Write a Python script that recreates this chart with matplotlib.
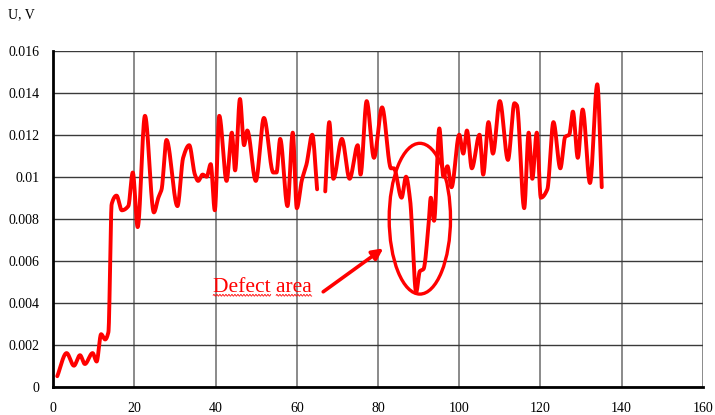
import numpy as np
import matplotlib
matplotlib.use('Agg')
import matplotlib.pyplot as plt
from matplotlib.patches import Ellipse
from matplotlib.lines import Line2D
from matplotlib.transforms import IdentityTransform
from matplotlib.ticker import FuncFormatter

# readings along the scan (position, signal in V); nan = missing sample
position = [1, 3.3, 5.1, 6.6, 7.8, 9.7, 10.7, 11.8, 12.8, 13.6, 14.4, 15.6, 16.9, 18.5,
            19.6, 20.8, 22.6, 24.8, 25.9, 26.7, 27.9, 30.6, 32.0, 33.5, 34.9, 35.7,
            36.8, 37.8, 38.8, 39.8, 40.9, 42.7, 44.0, 44.8, 46.0, 47.0, 47.8, 49.9,
            51.9, 54.2, 55.0, 55.9, 57.7, 59.0, 60.0, 61.2, 62.4, 63.8, 65.0, 66.0,
            67.0, 68.0, 69.0, 71.1, 73.0, 75.0, 75.7, 77.2, 79.0, 81.0, 83.2, 83.9,
            85.8, 86.9, 87.9, 89.4, 90.3, 91.2, 92.4, 93.0, 93.8, 95.1, 96.1, 97.1,
            98.1, 100.0, 101.0, 101.9, 103.1, 105.0, 105.9, 107.2, 108.3, 110.0,
            112.0, 113.6, 114.2, 116.0, 117.1, 118.0, 119.1, 120.1, 121.7, 123.2,
            124.9, 126.1, 127.1, 128.0, 129.2, 130.4, 132.2, 134.0, 135.1]
voltage = [0.0005, 0.0016, 0.0010, 0.0015, 0.00108, 0.0016, 0.0012, 0.0025, 0.00225,
           0.0026, 0.0087, 0.0091, 0.0084, 0.0086, 0.0102, 0.0076, 0.0129, 0.0083,
           0.0090, 0.0094, 0.01175, 0.0086, 0.0109, 0.0115, 0.0101, 0.0098, 0.0101,
           0.0100, 0.0106, 0.0084, 0.0129, 0.0098, 0.0121, 0.0103, 0.0137, 0.0115,
           0.0122, 0.0098, 0.0128, 0.0102, 0.0102, 0.0118, 0.0086, 0.0121, 0.0085,
           0.0098, 0.0106, 0.0120, 0.0094, np.nan, 0.0093, 0.0126, 0.0099, 0.0118,
           0.0099, 0.0115, 0.0101, 0.0136, 0.0109, 0.0133, 0.0104, 0.0104, 0.0090,
           0.0100, 0.0089, 0.0045, 0.0055, 0.0056, 0.0076, 0.0090, 0.0079, 0.0123,
           0.0100, 0.0105, 0.0095, 0.0120, 0.0111, 0.0122, 0.0104, 0.0120, 0.0101,
           0.0126, 0.0111, 0.0136, 0.0108, 0.0135, 0.0134, 0.0085, 0.0121, 0.0099,
           0.0121, 0.0090, 0.0094, 0.0126, 0.0104, 0.0119, 0.0120, 0.0131, 0.0109,
           0.0132, 0.0097, 0.0144, 0.0095]

x_ticks = [0, 20, 40, 60, 80, 100, 120, 140, 160]
y_ticks = [0, 0.002, 0.004, 0.006, 0.008, 0.01, 0.012, 0.014, 0.016]

defect_label = 'Defect area'
defect_center = (90.3, 0.0080)
defect_size = (15.1, 0.00718)
label_pos = (39.4, 0.00452)
arrow_tail = (66.5, 0.00452)
arrow_head = (81.3, 0.00659)

RED = '#ff0000'
SERIF = 'Liberation Serif'


def pchip(x, y, xs):
    # monotone cubic, a stand-in for Excel's smoothed line
    h = np.diff(x)
    d = np.diff(y) / h
    m = np.zeros_like(y)
    m[0], m[-1] = d[0], d[-1]
    for k in range(1, len(x) - 1):
        if d[k - 1] * d[k] > 0:
            w1 = 2 * h[k] + h[k - 1]
            w2 = h[k] + 2 * h[k - 1]
            m[k] = (w1 + w2) / (w1 / d[k - 1] + w2 / d[k])
    idx = np.clip(np.searchsorted(x, xs) - 1, 0, len(x) - 2)
    t = (xs - x[idx]) / h[idx]
    h00 = 2 * t**3 - 3 * t**2 + 1
    h10 = t**3 - 2 * t**2 + t
    h01 = -2 * t**3 + 3 * t**2
    h11 = t**3 - t**2
    return (h00 * y[idx] + h10 * h[idx] * m[idx]
            + h01 * y[idx + 1] + h11 * h[idx] * m[idx + 1])


fig = plt.figure(figsize=(7.15, 4.15), dpi=100)
ax = fig.add_axes([0.0744, 0.0682, 0.9086, 0.8096])

px = np.array(position, dtype=float)
py = np.array(voltage, dtype=float)
gaps = np.where(np.isnan(py))[0]
for seg in np.split(np.arange(len(px)), gaps):
    seg = seg[~np.isnan(py[seg])]
    xs = np.linspace(px[seg][0], px[seg][-1], 1500)
    ax.plot(xs, pchip(px[seg], py[seg], xs), color=RED, lw=2.8,
            solid_joinstyle='round', solid_capstyle='round', zorder=3)

ax.add_patch(Ellipse(defect_center, defect_size[0], defect_size[1],
                     fill=False, ec=RED, lw=2.4, zorder=4))
ax.annotate('', xy=arrow_head, xytext=arrow_tail,
            arrowprops=dict(arrowstyle='-|>', color=RED, lw=2.6,
                            mutation_scale=16, shrinkA=0, shrinkB=0))
txt = ax.text(label_pos[0], label_pos[1], defect_label, ha='left', va='baseline',
              fontsize=15.5, color=RED, family=SERIF, zorder=5)

ax.set_xlim(0, 160)
ax.set_ylim(0, 0.016)
ax.set_xticks(x_ticks)
ax.set_yticks(y_ticks)
ax.yaxis.set_major_formatter(FuncFormatter(lambda v, _: '%g' % v))
ax.tick_params(axis='y', length=0, labelsize=10, pad=10)
ax.tick_params(axis='x', length=0, labelsize=10, pad=11)
for lab in ax.get_xticklabels() + ax.get_yticklabels():
    lab.set_family(SERIF)

ax.grid(axis='y', color='#3a3a3a', lw=1.0, zorder=1)
ax.grid(axis='x', color='#8a8a8a', lw=1.4, zorder=1)
for side in ['top', 'right']:
    ax.spines[side].set_visible(False)
for side in ['left', 'bottom']:
    ax.spines[side].set_linewidth(2.0)
    ax.spines[side].set_zorder(2)

fig.text(0.011, 1 - 15 / 415, 'U, V', ha='left', va='center',
         fontsize=10, family=SERIF)

# wavy spell-check underline under each word of the annotation
fig.canvas.draw()
renderer = fig.canvas.get_renderer()
bb = txt.get_window_extent(renderer)
first = defect_label.split()[0]
probe = ax.text(label_pos[0], label_pos[1], first + ' ', fontsize=15.5,
                family=SERIF)
w_first = probe.get_window_extent(renderer).width
probe_word = ax.text(label_pos[0], label_pos[1], first, fontsize=15.5, family=SERIF)
w_word = probe_word.get_window_extent(renderer).width
probe.remove()
probe_word.remove()
y_wave = bb.y0 + 1.5
for x0, x1 in [(bb.x0, bb.x0 + w_word), (bb.x0 + w_first, bb.x1)]:
    wx = np.arange(x0, x1, 0.5)
    wy = y_wave + 0.9 * np.sin(2 * np.pi * (wx - x0) / 3.0)
    fig.add_artist(Line2D(wx, wy, transform=IdentityTransform(), color=RED, lw=0.6))

fig.savefig('out.png', dpi=100)
